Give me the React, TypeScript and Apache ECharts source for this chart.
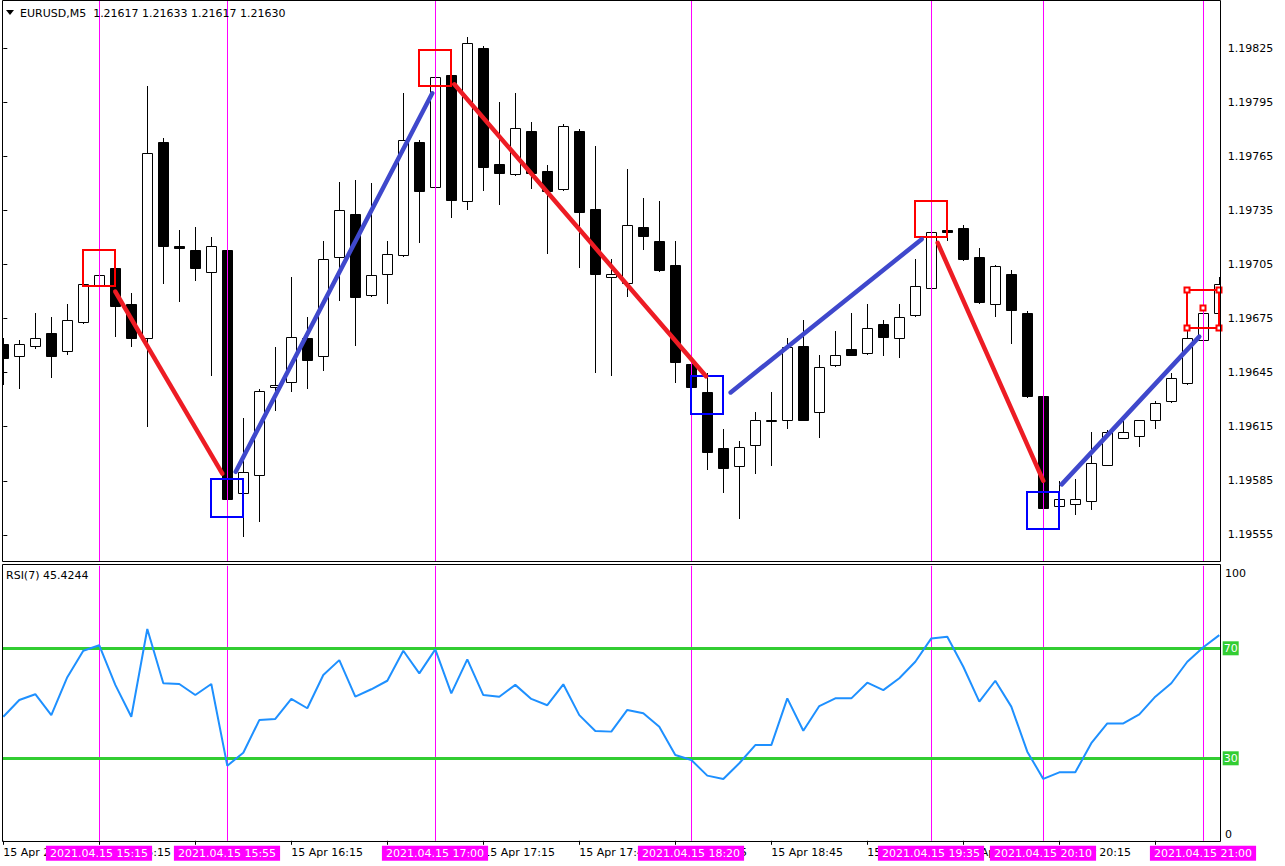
import React, { useEffect, useRef } from "react";
import * as echarts from "echarts";

// ---------- DATA ----------
const openP = [
  1.19661, 1.19654, 1.1966, 1.19667, 1.19657, 1.19673, 1.19693, 1.19703, 1.19683, 1.19664,
  1.19773, 1.19715, 1.19713, 1.19701, 1.19713, 1.19578, 1.19588, 1.19637, 1.1964, 1.19664,
  1.19654, 1.19709, 1.19733, 1.19688, 1.197, 1.1971, 1.19773, 1.19748, 1.1981, 1.1974,
  1.19825, 1.19761, 1.19755, 1.19779, 1.19757, 1.19747, 1.19779, 1.19736, 1.19698, 1.19695,
  1.19726, 1.19718, 1.19705, 1.1965, 1.19634, 1.19603, 1.19593, 1.19605, 1.19618, 1.19619,
  1.1966, 1.19623, 1.19649, 1.19658, 1.19656, 1.19672, 1.19664, 1.19677, 1.19692, 1.19724,
  1.19725, 1.19709, 1.19683, 1.197, 1.19678, 1.19632, 1.19571, 1.19572, 1.19574, 1.19594,
  1.19609, 1.1961, 1.19619, 1.19629, 1.19639, 1.19663, 1.19678,
];
const closeP = [
  1.19653, 1.19661, 1.19664, 1.19654, 1.19674, 1.19694, 1.19699, 1.19682, 1.19664, 1.19767,
  1.19715, 1.19714, 1.19703, 1.19715, 1.19575, 1.1959, 1.19635, 1.19638, 1.19665, 1.19652,
  1.19708, 1.19735, 1.19687, 1.19699, 1.19711, 1.19774, 1.19746, 1.19809, 1.19741, 1.19828,
  1.19759, 1.19756, 1.19781, 1.19756, 1.19746, 1.19782, 1.19734, 1.197, 1.197, 1.19727,
  1.19721, 1.19702, 1.19651, 1.19637, 1.19601, 1.19592, 1.19604, 1.19619, 1.19619, 1.19659,
  1.19619, 1.19648, 1.19655, 1.19655, 1.1967, 1.19665, 1.19676, 1.19693, 1.19723, 1.19723,
  1.19708, 1.19684, 1.19704, 1.1968, 1.19632, 1.1957, 1.19575, 1.19575, 1.19595, 1.19612,
  1.19612, 1.19619, 1.19628, 1.19642, 1.19664, 1.19678, 1.19694,
];
const highP = [
  1.19664, 1.19663, 1.19678, 1.19676, 1.19683, 1.19695, 1.197, 1.19704, 1.19689, 1.19804,
  1.19775, 1.19724, 1.19726, 1.1972, 1.19714, 1.1962, 1.19636, 1.19659, 1.19698, 1.19676,
  1.19718, 1.19751, 1.19752, 1.1975, 1.19718, 1.198, 1.19774, 1.1981, 1.19811, 1.19831,
  1.19826, 1.19795, 1.198, 1.19784, 1.1976, 1.19783, 1.1978, 1.19771, 1.19708, 1.19758,
  1.19742, 1.1974, 1.19718, 1.19652, 1.19645, 1.19614, 1.19607, 1.19623, 1.19634, 1.19664,
  1.19674, 1.19655, 1.19668, 1.19678, 1.19683, 1.19674, 1.19683, 1.19708, 1.19725, 1.19726,
  1.19727, 1.19714, 1.19705, 1.19702, 1.19679, 1.19633, 1.19585, 1.19586, 1.19612, 1.19613,
  1.19618, 1.19619, 1.19629, 1.19645, 1.1967, 1.19681, 1.19698,
];
const lowP = [
  1.19638, 1.19636, 1.19658, 1.19642, 1.19655, 1.19672, 1.19692, 1.19665, 1.19659, 1.19615,
  1.19694, 1.19684, 1.19696, 1.19643, 1.19572, 1.19554, 1.19562, 1.19624, 1.19634, 1.19636,
  1.19646, 1.19685, 1.1966, 1.19687, 1.19683, 1.19709, 1.19717, 1.19747, 1.19731, 1.19735,
  1.19746, 1.19738, 1.19754, 1.19747, 1.19711, 1.19746, 1.19703, 1.19645, 1.19643, 1.19687,
  1.19713, 1.19701, 1.19639, 1.19636, 1.19591, 1.19578, 1.19564, 1.19589, 1.19593, 1.19614,
  1.19618, 1.19609, 1.19648, 1.19654, 1.19655, 1.19654, 1.19653, 1.19676, 1.19691, 1.19718,
  1.19707, 1.19683, 1.19676, 1.19661, 1.19631, 1.19569, 1.1957, 1.19566, 1.19569, 1.19593,
  1.19608, 1.19604, 1.19614, 1.19628, 1.19638, 1.19662, 1.19677,
];
const rsiValues = [
  45.1, 51.2, 53.3, 45.7, 59.5, 69.1, 71.1, 56.7, 45.1, 77.0,
  57.3, 57.0, 53.0, 57.0, 27.3, 32.0, 43.9, 44.3, 51.6, 48.2,
  60.3, 65.7, 52.4, 55.1, 58.2, 69.1, 60.9, 69.6, 53.6, 66.0,
  53.0, 52.4, 56.7, 51.6, 49.3, 56.9, 45.7, 39.9, 39.7, 47.6,
  46.4, 41.5, 31.2, 29.4, 23.7, 22.5, 28.2, 34.8, 34.8, 51.8,
  40.0, 49.0, 51.8, 51.8, 57.5, 54.8, 59.1, 65.1, 73.6, 74.2,
  63.3, 50.6, 58.2, 48.8, 32.4, 22.5, 24.9, 24.9, 35.5, 42.7,
  42.7, 46.0, 52.4, 57.3, 65.1, 70.4, 74.8,
];
const priceTicks = [1.19555, 1.19585, 1.19615, 1.19645, 1.19675, 1.19705, 1.19735, 1.19765, 1.19795, 1.19825];
const timeTickIdx = [0, 6, 12, 18, 24, 30, 36, 42, 48, 54, 60, 66, 72];
const timeTickLabels = [
  "15 Apr 2021", "15 Apr 15:15", "15 Apr 15:45", "15 Apr 16:15", "15 Apr 16:45", "15 Apr 17:15",
  "15 Apr 17:45", "15 Apr 18:15", "15 Apr 18:45", "15 Apr 19:15", "15 Apr 19:45", "15 Apr 20:15", "15 Apr 20:45",
];
const markerIdx = [6, 14, 27, 43, 58, 65, 75];
const markerLabels = [
  "2021.04.15 15:15", "2021.04.15 15:55", "2021.04.15 17:00", "2021.04.15 18:20",
  "2021.04.15 19:35", "2021.04.15 20:10", "2021.04.15 21:00",
];
const zigzagDown = [
  [[7.0, 1.1969], [13.69, 1.19589]],
  [[28.19, 1.19805], [43.92, 1.19643]],
  [[58.4, 1.19717], [65.0, 1.19585]],
];
const zigzagUp = [
  [[14.525, 1.1959], [26.81, 1.198]],
  [[45.46, 1.19634], [57.4, 1.19719]],
  [[66.15, 1.19583], [74.75, 1.19665]],
];
const highBoxes = [
  [4.96, 1.19713, 7.0, 1.19693],
  [25.96, 1.19824, 28.0, 1.19804],
  [56.96, 1.1974, 59.0, 1.1972],
  [73.96, 1.19691, 76.0, 1.1967],
];
const lowBoxes = [
  [12.96, 1.19586, 15.0, 1.19565],
  [42.96, 1.19643, 45.0, 1.19622],
  [63.96, 1.19579, 66.0, 1.19558],
];
const headerText = "EURUSD,M5  1.21617 1.21633 1.21617 1.21630";
const rsiText = "RSI(7) 45.4244";
const rsiLevels = [70, 30];

const FONT = "DejaVu Sans";

export default function App() {
  const ref = useRef<HTMLDivElement>(null);
  useEffect(() => {
    if (!ref.current) return;
    const chart = echarts.init(ref.current, undefined, { renderer: "svg" });
    const xMin = -0.0375;
    const xMax = xMin + 1218 / 16;
    const candleData = openP.map((o, i) => [i, o, closeP[i], lowP[i], highP[i]]);

    const boxSeries = (data: number[][], color: string, handlesFor: number) => ({
      type: "custom",
      xAxisIndex: 0,
      yAxisIndex: 0,
      clip: false,
      z: 5,
      data,
      renderItem: (params: any, api: any) => {
        const p1 = api.coord([api.value(0), api.value(1)]);
        const p2 = api.coord([api.value(2), api.value(3)]);
        const x1 = Math.round(p1[0]);
        const y1 = Math.round(p1[1]);
        const x2 = Math.round(p2[0]);
        const y2 = Math.round(p2[1]);
        const children: any[] = [
          {
            type: "rect",
            shape: { x: x1, y: y1, width: x2 - x1, height: y2 - y1 },
            style: { fill: "none", stroke: color, lineWidth: 2 },
          },
        ];
        if (params.dataIndex === handlesFor) {
          const pts = [
            [x1, y1], [x2, y1], [x1, y2], [x2, y2], [(x1 + x2) / 2, (y1 + y2) / 2 - 1],
          ];
          pts.forEach((p) =>
            children.push({
              type: "rect",
              shape: { x: p[0] - 2.5, y: p[1] - 2.5, width: 5, height: 5 },
              style: { fill: "#fff", stroke: color, lineWidth: 2 },
            })
          );
        }
        return { type: "group", children };
      },
    });

    const zigSeries = (seg: number[][], color: string) => ({
      type: "line",
      xAxisIndex: 0,
      yAxisIndex: 0,
      data: seg,
      symbol: "none",
      silent: true,
      z: 6,
      lineStyle: { color, width: 4.5, cap: "round" },
    });

    const option: any = {
      animation: false,
      grid: [
        { left: 2.7, top: 1, width: 1218, height: 560 },
        { left: 2.7, top: 565.8, width: 1218, height: 275 },
      ],
      xAxis: [
        { type: "value", gridIndex: 0, min: xMin, max: xMax, show: false },
        {
          type: "value",
          gridIndex: 1,
          min: xMin,
          max: xMax,
          splitLine: { show: false },
          axisLine: { show: false },
          axisTick: { show: true, customValues: timeTickIdx, length: 4, lineStyle: { color: "#000" } },
          axisLabel: {
            customValues: timeTickIdx,
            formatter: (v: number) => timeTickLabels[timeTickIdx.indexOf(Math.round(v))] ?? "",
            align: "left",
            margin: 6,
            color: "#000",
            fontFamily: FONT,
            fontSize: 11,
          },
        },
      ],
      yAxis: [
        {
          type: "value",
          gridIndex: 0,
          position: "right",
          min: 1.195405,
          max: 1.198512,
          splitLine: { show: false },
          axisLine: { show: false },
          axisTick: { show: true, customValues: priceTicks, length: 4, lineStyle: { color: "#000" } },
          axisLabel: {
            customValues: priceTicks,
            formatter: (v: number) => v.toFixed(5),
            margin: 7,
            color: "#000",
            fontFamily: FONT,
            fontSize: 11,
          },
        },
        {
          type: "value",
          gridIndex: 1,
          position: "right",
          min: 0,
          max: 100,
          splitLine: { show: false },
          axisLine: { show: false },
          axisTick: { show: false },
          axisLabel: { show: false },
        },
      ],
      series: [
        {
          type: "custom",
          name: "candles",
          xAxisIndex: 0,
          yAxisIndex: 0,
          clip: true,
          z: 2,
          data: candleData,
          encode: { x: 0, y: [1, 2, 3, 4] },
          renderItem: (params: any, api: any) => {
            const i = api.value(0);
            const o = api.value(1);
            const c = api.value(2);
            const l = api.value(3);
            const h = api.value(4);
            const x = api.coord([i, o])[0];
            const yO = api.coord([i, o])[1];
            const yC = api.coord([i, c])[1];
            const yL = api.coord([i, l])[1];
            const yH = api.coord([i, h])[1];
            const cx = Math.round(x);
            const top = Math.round(Math.min(yO, yC));
            const bot = Math.max(Math.round(Math.max(yO, yC)), top + 1);
            const bull = c >= o;
            return {
              type: "group",
              children: [
                {
                  type: "line",
                  shape: { x1: cx + 0.5, y1: Math.round(yH), x2: cx + 0.5, y2: Math.round(yL) },
                  style: { stroke: "#000", lineWidth: 1 },
                },
                {
                  type: "rect",
                  shape: { x: cx - 4.5, y: top + 0.5, width: 10, height: bot - top },
                  style: { fill: bull ? "#fff" : "#000", stroke: "#000", lineWidth: 1 },
                },
              ],
            };
          },
        },
        {
          type: "line",
          name: "vlines-main",
          xAxisIndex: 0,
          yAxisIndex: 0,
          data: [],
          z: 4,
          markLine: {
            silent: true,
            symbol: "none",
            label: { show: false },
            lineStyle: { color: "#FF00FF", width: 1, type: "solid" },
            data: markerIdx.map((v) => ({ xAxis: v })),
          },
        },
        ...zigzagDown.map((s) => zigSeries(s, "#ED1C24")),
        ...zigzagUp.map((s) => zigSeries(s, "#3F48CC")),
        boxSeries(highBoxes, "#FF0000", 3),
        boxSeries(lowBoxes, "#0000FF", -1),
        {
          type: "line",
          name: "RSI",
          xAxisIndex: 1,
          yAxisIndex: 1,
          data: rsiValues.map((v, i) => [i, v]),
          symbol: "none",
          z: 5,
          lineStyle: { color: "#1E90FF", width: 2 },
          markLine: {
            silent: true,
            symbol: "none",
            data: [
              ...markerIdx.map((v) => ({
                xAxis: v,
                lineStyle: { color: "#FF00FF", width: 1, type: "solid" },
                label: { show: false },
              })),
              ...rsiLevels.map((v) => ({
                yAxis: v,
                lineStyle: { color: "#32CD32", width: 3, type: "solid" },
                label: {
                  show: true,
                  position: "end",
                  distance: 2,
                  formatter: String(v),
                  color: "#fff",
                  backgroundColor: "#32CD32",
                  padding: [2, 1, 1, 1],
                  fontFamily: FONT,
                  fontSize: 11,
                },
              })),
            ],
          },
        },
        {
          type: "custom",
          name: "marker-labels",
          xAxisIndex: 1,
          yAxisIndex: 1,
          clip: false,
          z: 20,
          data: markerIdx.map((v, k) => [v, k]),
          renderItem: (params: any, api: any) => {
            const x = api.coord([api.value(0), 0])[0];
            const y = params.coordSys.y + params.coordSys.height + 12.5;
            return {
              type: "text",
              style: {
                text: markerLabels[api.value(1)],
                x: Math.round(x),
                y,
                align: "center",
                verticalAlign: "middle",
                fill: "#fff",
                backgroundColor: "#FF00FF",
                padding: [2, 4, 2, 4],
                font: `11px "${FONT}"`,
              },
            };
          },
        },
      ],
      graphic: [
        {
          type: "rect",
          z: 100,
          shape: { x: 2.5, y: 0.5, width: 1218, height: 561 },
          style: { fill: "none", stroke: "#000", lineWidth: 1 },
          silent: true,
        },
        {
          type: "rect",
          z: 100,
          shape: { x: 2.5, y: 564.5, width: 1218, height: 277 },
          style: { fill: "none", stroke: "#000", lineWidth: 1 },
          silent: true,
        },
        {
          type: "polygon",
          z: 100,
          shape: { points: [[6, 10], [14, 10], [10, 15]] },
          style: { fill: "#000" },
        },
        {
          type: "text",
          z: 100,
          style: { text: headerText, x: 20, y: 13, verticalAlign: "middle", fill: "#000", font: `11px "${FONT}"` },
        },
        {
          type: "text",
          z: 100,
          style: { text: rsiText, x: 6, y: 575, verticalAlign: "middle", fill: "#000", font: `11px "${FONT}"` },
        },
        {
          type: "text",
          z: 100,
          style: { text: "100", x: 1225, y: 573, verticalAlign: "middle", fill: "#000", font: `11px "${FONT}"` },
        },
        {
          type: "text",
          z: 100,
          style: { text: "0", x: 1225, y: 834, verticalAlign: "middle", fill: "#000", font: `11px "${FONT}"` },
        },
      ],
    };
    chart.setOption(option);
    return () => chart.dispose();
  }, []);
  return (
    <div
      ref={ref}
      style={{ position: "absolute", left: 0, top: 0, width: 1285, height: 866, background: "#fff" }}
    />
  );
}
